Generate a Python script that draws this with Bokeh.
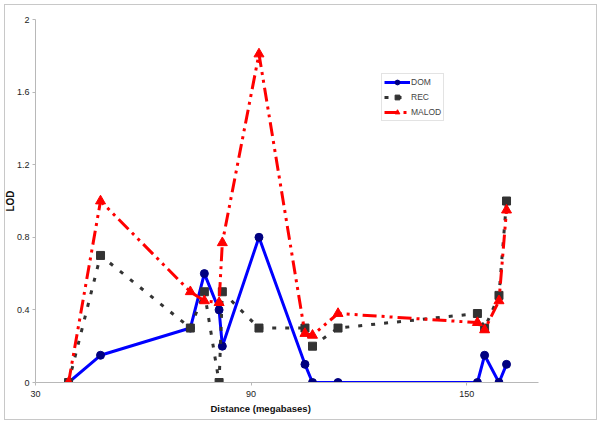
from bokeh.plotting import figure
from bokeh.models import FixedTicker, NumeralTickFormatter, Legend, Title
from bokeh.embed import file_html
from bokeh.resources import INLINE

# Data
distance = [39.2, 48.1, 73.1, 77.0, 81.1, 82.0, 92.2, 105.0, 107.1, 114.2, 153.0, 155.0, 159.0, 161.1]
dom = [0.0, 0.15, 0.3, 0.6, 0.4, 0.2, 0.8, 0.1, 0.0, 0.0, 0.0, 0.15, 0.0, 0.1]
rec = [0.0, 0.7, 0.3, 0.5, 0.0, 0.5, 0.3, 0.3, 0.2, 0.3, 0.38, 0.3, 0.48, 1.0]
malod = [0.0, 1.0, 0.5, 0.45, 0.44, 0.77, 1.81, 0.27, 0.26, 0.38, 0.33, 0.29, 0.45, 0.95]
x_ticks = [30, 90, 150]
y_ticks = [0, 0.4, 0.8, 1.2, 1.6, 2.0]

FONT = "Liberation Sans"

p = figure(width=593, height=416, x_range=(30, 170), y_range=(0, 2),
           output_backend="svg", toolbar_location=None,
           min_border_left=29, min_border_right=60, min_border_top=14, min_border_bottom=39)
p.styles = {"border": "1px solid #c8c8c8", "margin": "4px 0 0 4px"}
p.outline_line_color = None
p.xgrid.visible = False
p.ygrid.visible = False
p.background_fill_color = "white"
p.border_fill_color = "white"

# axes
for ax in (p.xaxis[0], p.yaxis[0]):
    ax.axis_line_color = "#b8b8b8"
    ax.axis_line_width = 1
    ax.major_tick_line_color = "#b8b8b8"
    ax.major_tick_in = 0
    ax.major_tick_out = 3
    ax.minor_tick_line_color = None
    ax.major_label_text_font = FONT
    ax.major_label_text_font_size = "9px"
    ax.major_label_text_color = "#222222"

p.xaxis.ticker = FixedTicker(ticks=x_ticks)
p.xaxis.major_label_standoff = 5
p.yaxis.ticker = FixedTicker(ticks=y_ticks)
p.yaxis.formatter = NumeralTickFormatter(format="0.[0]")
p.yaxis.major_label_standoff = 3

ytitle = Title(text="LOD", align="center", text_font=FONT, text_font_style="bold",
               text_font_size="10px", text_color="#111111", standoff=-5)
p.add_layout(ytitle, "left")

xtitle = Title(text="Distance (megabases)", align="left", offset=175, text_font=FONT,
               text_font_style="bold", text_font_size="9.5px", text_color="#111111",
               standoff=2)
p.add_layout(xtitle, "below")

# series
r_dom_l = p.line(distance, dom, line_color="#0000FF", line_width=3)
r_dom_m = p.scatter(distance, dom, marker="circle", size=8, fill_color="#000080", line_color="#000080")

r_rec_l = p.line(distance, rec, line_color="#333333", line_width=3, line_dash="4 9")
r_rec_m = p.scatter(distance, rec, marker="square", size=8, fill_color="#333333", line_color="#333333")

r_mal_l = p.line(distance, malod, line_color="#FF0000", line_width=3, line_dash="14 5 3 5 3 5")
r_mal_m = p.scatter(distance, malod, marker="triangle", size=10, fill_color="#FF0000", line_color="#FF0000")

legend = Legend(items=[("DOM", [r_dom_l, r_dom_m]),
                       ("REC", [r_rec_l, r_rec_m]),
                       ("MALOD", [r_mal_l, r_mal_m])],
                location=(346, 261))
legend.label_text_font = FONT
legend.label_text_font_size = "8.5px"
legend.glyph_width = 26
legend.glyph_height = 12
legend.label_height = 12
legend.label_standoff = 1
legend.spacing = 3
legend.padding = 2
legend.margin = 0
legend.border_line_color = "#c8c8c8"
legend.border_line_width = 1
legend.background_fill_alpha = 1
p.add_layout(legend)

open("out.html", "w").write(file_html(p, INLINE))
